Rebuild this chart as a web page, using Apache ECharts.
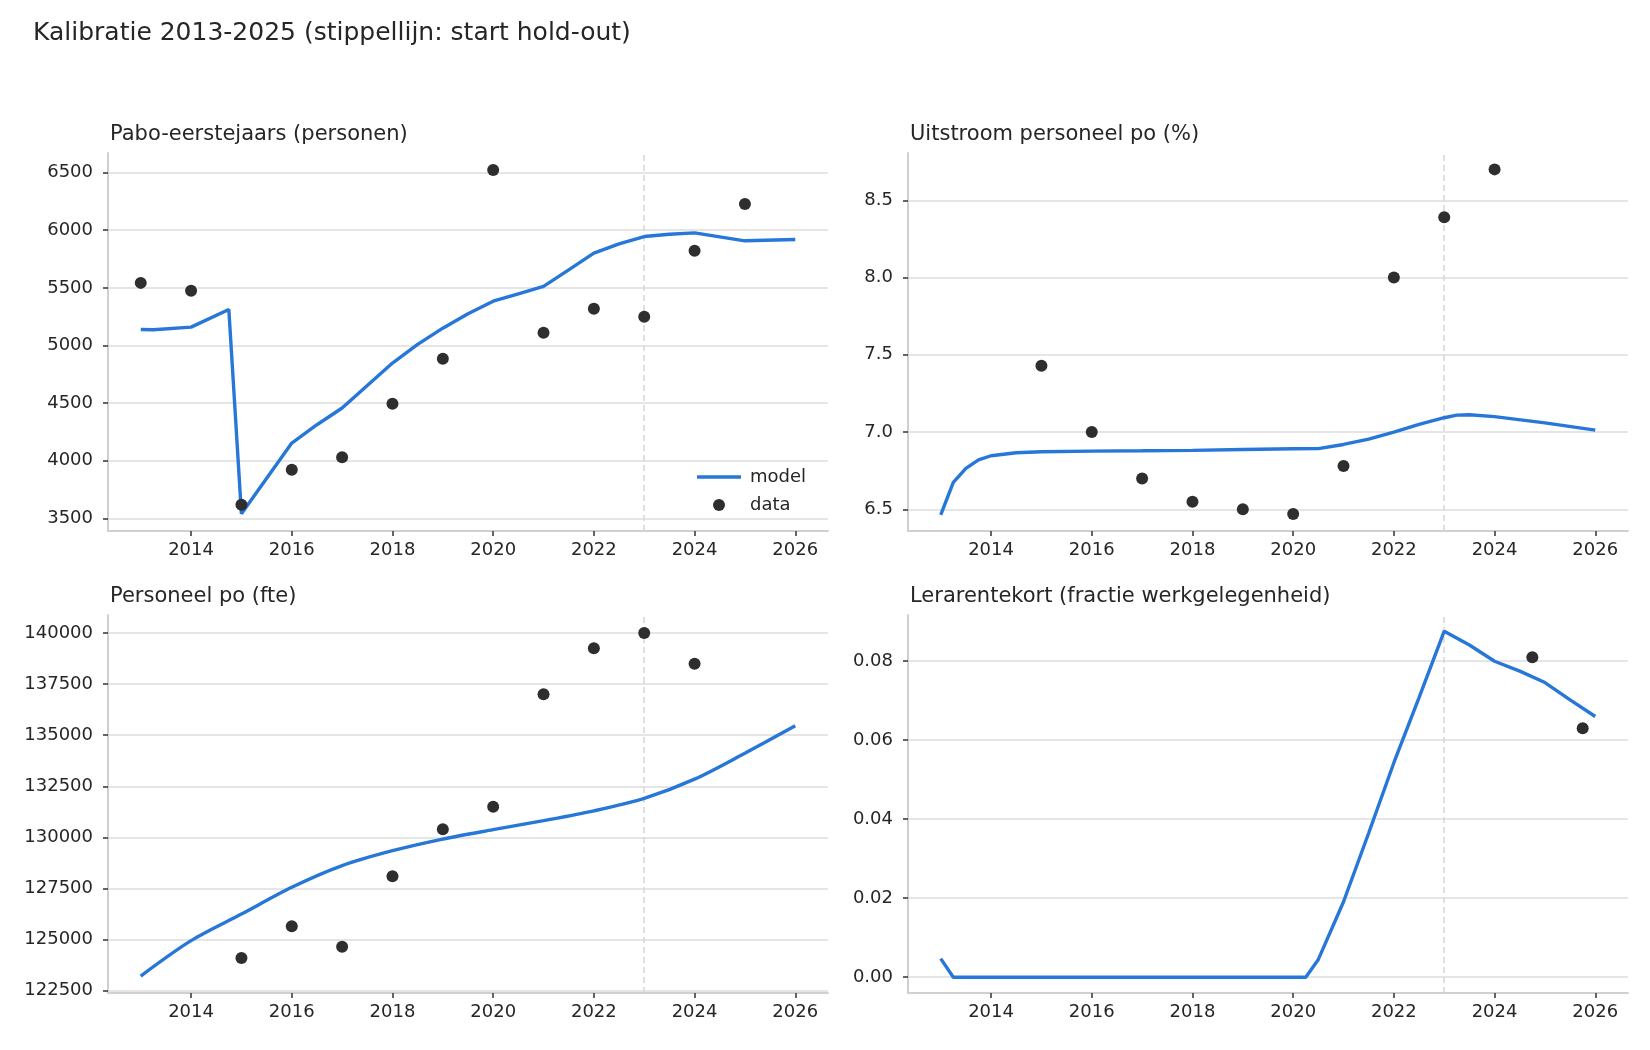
<!DOCTYPE html>
<html>
<head>
<meta charset="utf-8">
<script src="https://cdn.jsdelivr.net/npm/echarts@6/dist/echarts.min.js"></script>
<style>
html, body { margin: 0; padding: 0; background: #fff; }
#chart { width: 1650px; height: 1050px; }
</style>
</head>
<body>
<div id="chart"></div>
<script>
// hold-out start (dashed line)
var holdoutStart = 2023;
var xTicks = [2014, 2016, 2018, 2020, 2022, 2024, 2026];

// Pabo-eerstejaars
var paboYears = [2013, 2014, 2015, 2016, 2017, 2018, 2019, 2020, 2021, 2022, 2023, 2024, 2025];
var paboData = [5543, 5474, 3618, 3922, 4029, 4494, 4884, 6523, 5110, 5318, 5249, 5821, 6228];
var paboModelT = [2013, 2013.25, 2014, 2014.75, 2015, 2016, 2016.5, 2017, 2017.5, 2018, 2018.5, 2019, 2019.5, 2020, 2020.5, 2021, 2021.5, 2022, 2022.5, 2023, 2023.5, 2024, 2025, 2026];
var paboModel = [5139, 5136, 5159, 5312, 3540, 4153, 4312, 4457, 4653, 4847, 5009, 5150, 5275, 5384, 5448, 5512, 5656, 5801, 5882, 5945, 5965, 5977, 5908, 5919];
var paboTicks = [3500, 4000, 4500, 5000, 5500, 6000, 6500];

// Uitstroom personeel po (%)
var uitYears = [2015, 2016, 2017, 2018, 2019, 2020, 2021, 2022, 2023, 2024];
var uitData = [7.43, 7.0, 6.70, 6.55, 6.50, 6.47, 6.78, 8.0, 8.39, 8.70];
var uitModelT = [2013, 2013.25, 2013.5, 2013.75, 2014, 2014.5, 2015, 2016, 2017, 2018, 2019, 2020, 2020.5, 2021, 2021.5, 2022, 2022.5, 2023, 2023.25, 2023.5, 2024, 2025, 2026];
var uitModel = [6.465, 6.675, 6.765, 6.82, 6.847, 6.866, 6.873, 6.877, 6.879, 6.882, 6.887, 6.892, 6.893, 6.92, 6.955, 7.0, 7.05, 7.093, 7.11, 7.112, 7.10, 7.06, 7.013];
var uitTicks = [6.5, 7.0, 7.5, 8.0, 8.5];

// Personeel po (fte)
var persYears = [2015, 2016, 2017, 2018, 2019, 2020, 2021, 2022, 2023, 2024];
var persData = [124100, 125650, 124650, 128100, 130400, 131500, 137000, 139250, 140000, 138500];
var persModelT = [2013, 2014, 2015, 2016, 2017, 2018, 2019, 2020, 2021, 2022, 2023, 2024, 2025, 2026];
var persModel = [123220, 124950, 126250, 127560, 128620, 129350, 129920, 130380, 130820, 131300, 131910, 132850, 134120, 135460];
var persTicks = [122500, 125000, 127500, 130000, 132500, 135000, 137500, 140000];

// Lerarentekort (fractie)
var tekortYears = [2024.75, 2025.75];
var tekortData = [0.081, 0.063];
var tekortModelT = [2013, 2013.25, 2020.25, 2020.5, 2021, 2021.5, 2022, 2022.5, 2023, 2023.5, 2024, 2024.5, 2025, 2025.5, 2026];
var tekortModel = [0.0047, 0, 0, 0.0045, 0.0191, 0.0365, 0.0543, 0.0708, 0.0876, 0.0841, 0.0800, 0.0775, 0.0746, 0.0702, 0.0660];
var tekortTicks = [0, 0.02, 0.04, 0.06, 0.08];

var FONT = 'DejaVu Sans';
var TEXT = '#262626';
var BLUE = '#2777d8';
var DOT = '#2e2e2e';

function pairs(xs, ys) {
    var out = [];
    for (var i = 0; i < xs.length; i++) out.push([xs[i], ys[i]]);
    return out;
}

var panels = [
    { title: 'Pabo-eerstejaars (personen)', left: 108, top: 153, ymin: 3390, ymax: 6670, ticks: paboTicks,
      fmt: function (v) { return String(v); },
      model: pairs(paboModelT, paboModel), data: pairs(paboYears, paboData), smooth: false },
    { title: 'Uitstroom personeel po (%)', left: 908, top: 153, ymin: 6.36, ymax: 8.806, ticks: uitTicks,
      fmt: function (v) { return v.toFixed(1); },
      model: pairs(uitModelT, uitModel), data: pairs(uitYears, uitData), smooth: false },
    { title: 'Personeel po (fte)', left: 108, top: 615, ymin: 122390, ymax: 140880, ticks: persTicks,
      fmt: function (v) { return String(v); },
      model: pairs(persModelT, persModel), data: pairs(persYears, persData), smooth: 0.3 },
    { title: 'Lerarentekort (fractie werkgelegenheid)', left: 908, top: 615, ymin: -0.0040, ymax: 0.0917, ticks: tekortTicks,
      fmt: function (v) { return v.toFixed(2); },
      model: pairs(tekortModelT, tekortModel), data: pairs(tekortYears, tekortData), smooth: false }
];

var titles = [{
    text: 'Kalibratie 2013-2025 (stippellijn: start hold-out)',
    left: 28, top: 16,
    textStyle: { fontFamily: FONT, fontSize: 25, fontWeight: 'normal', color: TEXT }
}];
var grids = [], xAxes = [], yAxes = [], series = [];

panels.forEach(function (p, i) {
    titles.push({
        text: p.title, left: p.left - 3, top: p.top - 34,
        textStyle: { fontFamily: FONT, fontSize: 21, fontWeight: 'normal', color: TEXT }
    });
    grids.push({ left: p.left, top: p.top, width: 720, height: 378 });
    xAxes.push({
        type: 'value', gridIndex: i, min: 2012.35, max: 2026.65,
        axisLine: { show: true, onZero: false, lineStyle: { color: '#d0d0d0', width: 2 } },
        axisTick: { show: true, length: 5, customValues: xTicks, lineStyle: { color: '#333', width: 1.5 } },
        axisLabel: { customValues: xTicks, margin: 10, fontFamily: FONT, fontSize: 18, color: TEXT,
            formatter: function (v) { return String(v); } },
        splitLine: { show: false }
    });
    yAxes.push({
        type: 'value', gridIndex: i, min: p.ymin, max: p.ymax,
        axisLine: { show: true, onZero: false, lineStyle: { color: '#d0d0d0', width: 2 } },
        axisTick: { show: true, length: 5, customValues: p.ticks, lineStyle: { color: '#333', width: 1.5 } },
        axisLabel: { customValues: p.ticks, margin: 15, fontFamily: FONT, fontSize: 18, color: TEXT, formatter: p.fmt },
        splitLine: { show: true, lineStyle: { color: '#dddddd', width: 1.6 } }
    });
    series.push({
        name: 'hold-out', type: 'line', xAxisIndex: i, yAxisIndex: i, data: [], z: 1, silent: true,
        markLine: {
            silent: true, symbol: 'none', animation: false, z: 1,
            label: { show: false },
            lineStyle: { type: [6, 4], color: '#d8d8d8', width: 1.6 },
            data: [{ xAxis: holdoutStart }]
        }
    });
    series.push({
        name: 'model', type: 'line', xAxisIndex: i, yAxisIndex: i, data: p.model, z: 3,
        symbol: 'none', smooth: p.smooth, animation: false,
        lineStyle: { color: BLUE, width: 3.4 }, itemStyle: { color: BLUE }
    });
    series.push({
        name: 'data', type: 'scatter', xAxisIndex: i, yAxisIndex: i, data: p.data, z: 4,
        symbol: 'circle', symbolSize: 12, animation: false,
        itemStyle: { color: DOT, opacity: 1 }
    });
});

var myChart = echarts.init(document.getElementById('chart'));
myChart.setOption({
    backgroundColor: '#ffffff',
    animation: false,
    title: titles,
    grid: grids,
    xAxis: xAxes,
    yAxis: yAxes,
    legend: {
        data: [
            { name: 'model', icon: 'path://M0,0H44V3.4H0Z' },
            { name: 'data', icon: 'circle' }
        ],
        orient: 'vertical', left: 692, top: 463,
        itemWidth: 44, itemHeight: 12, itemGap: 10,
        selectedMode: false,
        textStyle: { fontFamily: FONT, fontSize: 18, color: TEXT, padding: [0, 0, 0, 4] }
    },
    series: series
});
</script>
</body>
</html>
